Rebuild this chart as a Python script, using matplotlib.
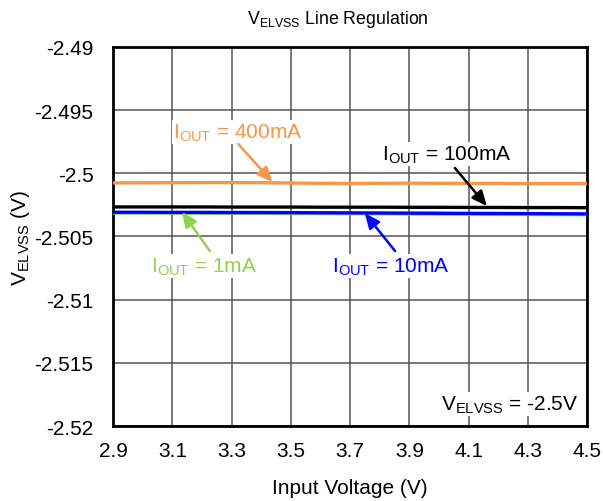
import matplotlib
matplotlib.use("Agg")
import matplotlib.pyplot as plt
import numpy as np

plt.rcParams['font.family'] = ['Liberation Sans', 'DejaVu Sans']
plt.rcParams['mathtext.fontset'] = 'custom'
plt.rcParams['mathtext.rm'] = 'Liberation Sans'

# input voltage sweep
vin = [2.9, 3.0, 3.1, 3.2, 3.3, 3.4, 3.5, 3.6, 3.7, 3.8, 3.9, 4.0, 4.1, 4.2, 4.3, 4.4, 4.5]

# output voltage for each load current
v_1ma = [-2.50316, -2.50316, -2.50317, -2.50318, -2.50318, -2.50319, -2.50320, -2.50320, -2.50321,
         -2.50322, -2.50323, -2.50324, -2.50325, -2.50326, -2.50327, -2.50328, -2.50329]
v_10ma = [-2.50308, -2.50308, -2.50309, -2.50309, -2.50310, -2.50310, -2.50311, -2.50312, -2.50313,
          -2.50314, -2.50315, -2.50316, -2.50317, -2.50318, -2.50319, -2.50320, -2.50321]
v_100ma = [-2.50266, -2.50266, -2.50266, -2.50266, -2.50267, -2.50267, -2.50267, -2.50268, -2.50268,
           -2.50268, -2.50269, -2.50269, -2.50270, -2.50270, -2.50271, -2.50271, -2.50272]
v_400ma = [-2.50076, -2.50075, -2.50074, -2.50073, -2.50073, -2.50074, -2.50077, -2.50079, -2.50080,
           -2.50079, -2.50078, -2.50079, -2.50080, -2.50080, -2.50081, -2.50081, -2.50081]

xticks = [2.9, 3.1, 3.3, 3.5, 3.7, 3.9, 4.1, 4.3, 4.5]
yticks = [-2.52, -2.515, -2.51, -2.505, -2.5, -2.495, -2.49]
ytick_labels = ['-2.52', '-2.515', '-2.51', '-2.505', '-2.5', '-2.495', '-2.49']

c_orange = '#F79646'
c_green = '#92D050'
c_blue = '#0000FF'

fig = plt.figure(figsize=(6.03, 5.02), dpi=100)
ax = fig.add_axes([0.1874, 0.1494, 0.7861, 0.7550])

ax.plot(vin, v_1ma, color=c_green, lw=2.2, zorder=3)
ax.plot(vin, v_10ma, color=c_blue, lw=2.4, zorder=4)
ax.plot(vin, v_100ma, color='black', lw=2.4, zorder=4)
ax.plot(vin, v_400ma, color=c_orange, lw=2.4, zorder=4)

ax.set_xlim(2.9, 4.5)
ax.set_ylim(-2.52, -2.49)
ax.set_xticks(xticks)
ax.set_xticklabels([f'{t:.1f}' for t in xticks])
ax.set_yticks(yticks)
ax.set_yticklabels(ytick_labels)
ax.tick_params(length=0, labelsize=15)
ax.tick_params(axis='x', pad=11)
ax.tick_params(axis='y', pad=14)
ax.grid(True, color='#555555', lw=1.1)
ax.set_axisbelow(True)
for s in ax.spines.values():
    s.set_linewidth(2)
    s.set_color('black')

ax.set_xlabel('Input Voltage (V)', fontsize=15, labelpad=13)
ax.set_ylabel(r'V$_{\mathregular{ELVSS}}$ (V)', fontsize=15, labelpad=2)
fig.text(0.561, 0.962, r'V$_{\mathregular{ELVSS}}$ Line Regulation', fontsize=12.8,
         ha='center', va='center')

box = dict(fc='white', ec='none', pad=1)
arrow = dict(arrowstyle='-|>,head_length=0.9,head_width=0.4', lw=1.8, shrinkA=0, shrinkB=0)

labels = [
    (r'I$_{\mathregular{OUT}}$ = 400mA', c_orange, (3.322, -2.49673), (3.323, -2.49768), (3.438, -2.50069)),
    (r'I$_{\mathregular{OUT}}$ = 100mA', 'black', (4.027, -2.49847), (4.054, -2.49958), (4.162, -2.50259)),
    (r'I$_{\mathregular{OUT}}$ = 1mA', c_green, (3.209, -2.50734), (3.227, -2.50615), (3.133, -2.50306)),
    (r'I$_{\mathregular{OUT}}$ = 10mA', c_blue, (3.837, -2.50734), (3.852, -2.50615), (3.750, -2.50316)),
]
for txt, col, tpos, tail, head in labels:
    ax.text(tpos[0], tpos[1], txt, color=col, fontsize=15, ha='center', va='center',
            bbox=box, zorder=5)
    ax.annotate('', xy=head, xytext=tail,
                arrowprops=dict(arrow, color=col), zorder=6)

ax.text(4.24, -2.51826, r'V$_{\mathregular{ELVSS}}$ = -2.5V', fontsize=15,
        ha='center', va='center', bbox=box, zorder=5)

fig.savefig('out.png', dpi=100)
